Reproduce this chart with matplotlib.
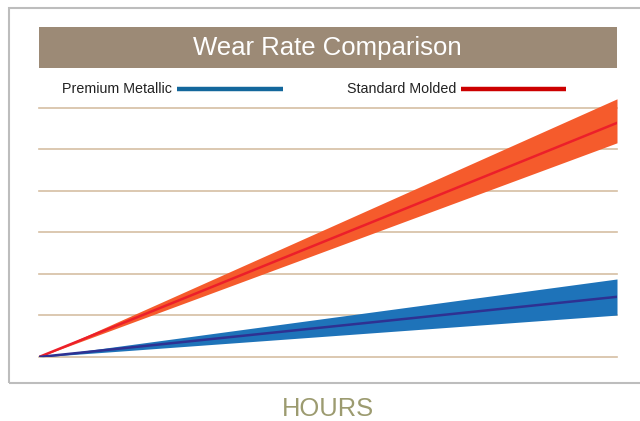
import matplotlib.pyplot as plt
from matplotlib.patches import Rectangle
from matplotlib.lines import Line2D

plt.rcParams['font.family'] = ['Liberation Sans', 'DejaVu Sans']

hours = [0, 100]
metallic_mid = [0, 1.45]
metallic_low = [0, 1.01]
metallic_high = [0, 1.88]
molded_mid = [0, 5.64]
molded_low = [0, 5.16]
molded_high = [0, 6.22]
grid_levels = [0, 1, 2, 3, 4, 5, 6]

W, H = 640, 421
fig = plt.figure(figsize=(W / 100, H / 100), dpi=100)

def fx(px):
    return px / W

def fy(py):
    return (H - py) / H

# outer frame
fig.patches.append(Rectangle((fx(9), fy(383)), fx(645) - fx(9), fy(8) - fy(383),
                             transform=fig.transFigure, fill=False,
                             edgecolor='#bdbdbd', lw=1.5, zorder=0))

ax = fig.add_axes([fx(39), fy(357), fx(617) - fx(39), (357 - 95.5) / H])
ax.set_xlim(hours[0], hours[-1])
ax.set_ylim(0, 6.3)
for g in grid_levels:
    ax.axhline(g, color='#d6bfa3', lw=1.2, zorder=1, clip_on=False)

ax.fill_between(hours, molded_low, molded_high, color='#f55b2c', lw=0, zorder=2)
ax.plot(hours, molded_mid, color='#ec1f2a', lw=1.8, zorder=3)
ax.fill_between(hours, metallic_low, metallic_high, color='#1e73b9', lw=0, zorder=2)
ax.plot(hours, metallic_mid, color='#2e3192', lw=1.8, zorder=3)
ax.axis('off')

# title bar
fig.patches.append(Rectangle((fx(39), fy(68)), fx(617) - fx(39), fy(27) - fy(68),
                             transform=fig.transFigure, facecolor='#9c8a76',
                             edgecolor='none'))
fig.text(fx(327), fy(47.5), 'Wear Rate Comparison', color='white', fontsize=18.5,
         ha='center', va='center')

# legend
fig.text(fx(172), fy(89), 'Premium Metallic', color='#222222', fontsize=10.3,
         ha='right', va='center', fontweight='medium')
fig.lines.append(Line2D([fx(177), fx(283)], [fy(89), fy(89)], transform=fig.transFigure,
                        color='#13679c', lw=3.2, solid_capstyle='butt'))
fig.text(fx(456), fy(89), 'Standard Molded', color='#222222', fontsize=10.3,
         ha='right', va='center', fontweight='medium')
fig.lines.append(Line2D([fx(461), fx(566)], [fy(89), fy(89)], transform=fig.transFigure,
                        color='#cc0000', lw=3.2, solid_capstyle='butt'))

fig.text(fx(328), fy(409), 'HOURS', color='#9c9b70', fontsize=18.4,
         ha='center', va='center')

fig.savefig('out.png', dpi=100)
